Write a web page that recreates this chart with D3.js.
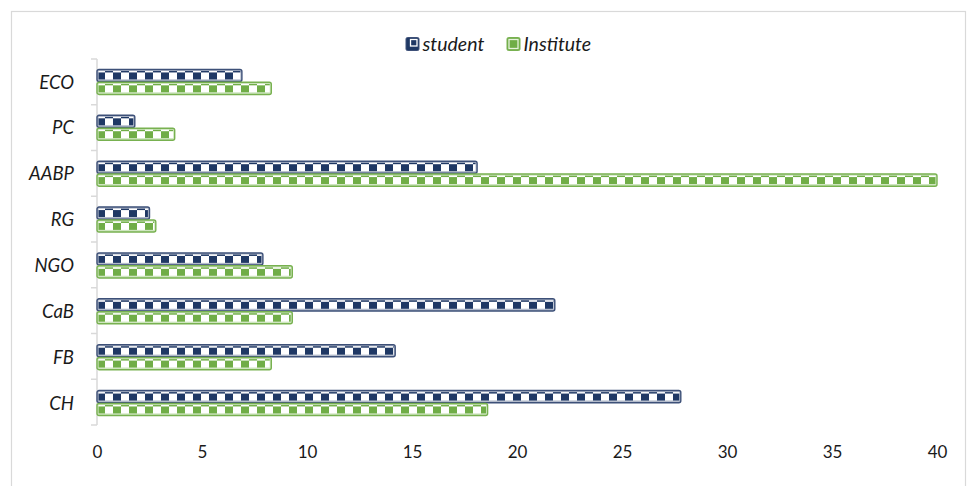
<!DOCTYPE html>
<html>
<head>
<meta charset="utf-8">
<script src="https://cdn.jsdelivr.net/npm/d3@7"></script>
<style>
  html, body { margin: 0; padding: 0; background: #fff; }
  svg { display: block; }
  text { font-family: Lato, "Open Sans", sans-serif; fill: #1a1a1a; }
</style>
</head>
<body>
<svg id="chart" width="968" height="486"></svg>
<script>
// Share of responses per channel (%), student vs. institute
const categories = ["ECO", "PC", "AABP", "RG", "NGO", "CaB", "FB", "CH"];
const seriesNames = ["student", "Institute"];
const student = [6.9, 1.8, 18.1, 2.5, 7.9, 21.8, 14.2, 27.8];
const institute = [8.3, 3.7, 40, 2.8, 9.3, 9.3, 8.3, 18.6];
const xTicks = [0, 5, 10, 15, 20, 25, 30, 35, 40];

const seriesStyle = {
  student:   { main: "#1f3864", edge: "#3d5078", light: "#b3bbcb" },
  Institute: { main: "#70ad47", edge: "#78b150", light: "#cfe6c0" }
};

const svg = d3.select("#chart");
const defs = svg.append("defs");

// checkerboard fill for each series (aligned to each bar's own origin)
seriesNames.forEach(name => {
  const s = seriesStyle[name];
  const p = defs.append("pattern")
    .attr("id", "chk-" + name)
    .attr("patternUnits", "userSpaceOnUse")
    .attr("width", 16).attr("height", 40);
  p.append("rect").attr("width", 16).attr("height", 40).attr("fill", "#fff");
  p.append("rect").attr("x", 8).attr("y", 0).attr("width", 8).attr("height", 3).attr("fill", s.main);
  p.append("rect").attr("x", 0).attr("y", 3).attr("width", 8).attr("height", 40).attr("fill", s.main);
  p.append("rect").attr("x", 0).attr("y", 0).attr("width", 16).attr("height", 0.8).attr("fill", s.main).attr("opacity", 0.6);
});

// chart frame
svg.append("rect")
  .attr("x", 11.5).attr("y", 11.5).attr("width", 954).attr("height", 490)
  .attr("fill", "none").attr("stroke", "#d9d9d9").attr("stroke-width", 1.2);

const x = d3.scaleLinear().domain([0, 40]).range([97, 937]);
const y = d3.scaleBand().domain(categories).range([59, 426])
  .paddingInner(0.455).paddingOuter(0.2275);
const ys = d3.scaleBand().domain(seriesNames).range([0, y.bandwidth()]).paddingInner(0.06);

// category axis line and tick marks
const yTop = y.range()[0], yBot = y.range()[1] - 1;
svg.append("line")
  .attr("x1", 97).attr("x2", 97).attr("y1", yTop).attr("y2", yBot)
  .attr("stroke", "#d9d9d9").attr("stroke-width", 1.5);
const bounds = d3.range(categories.length + 1).map(i => yTop + i * (yBot - yTop) / categories.length);
svg.append("g").selectAll("line").data(bounds).join("line")
  .attr("x1", 91).attr("x2", 97).attr("y1", d => d).attr("y2", d => d)
  .attr("stroke", "#d9d9d9").attr("stroke-width", 1.5);

// category labels
svg.append("g").selectAll("text").data(categories).join("text")
  .attr("x", 74)
  .attr("y", d => y(d) + y.bandwidth() / 2)
  .attr("dy", "0.36em")
  .attr("text-anchor", "end")
  .attr("font-style", "italic")
  .attr("font-size", 18.5)
  .text(d => d);

// value axis labels
const xAxis = d3.axisBottom(x).tickValues(xTicks).tickSize(0).tickPadding(0);
const gx = svg.append("g").attr("transform", "translate(0,446)").call(xAxis);
gx.select(".domain").remove();
gx.selectAll("text").attr("font-size", 17).attr("font-family", "Lato, sans-serif").attr("fill", "#1a1a1a");

// bars
const rows = categories.map((c, i) => ({ cat: c, student: student[i], Institute: institute[i] }));
const barH = ys.bandwidth();

function drawBar(g, name, value) {
  const s = seriesStyle[name];
  const w = x(value) - x(0);
  g.append("rect")
    .attr("x", 0).attr("y", 0).attr("width", w).attr("height", barH)
    .attr("rx", 2).attr("fill", s.light)
    .attr("stroke", s.edge).attr("stroke-width", 1.4);
  g.append("rect")
    .attr("x", 1.6).attr("y", 1.6)
    .attr("width", Math.max(0, w - 3.2)).attr("height", barH - 3.8)
    .attr("fill", `url(#chk-${name})`);
}

rows.forEach(r => {
  seriesNames.forEach(name => {
    const g = svg.append("g")
      .attr("transform", `translate(${x(0)},${y(r.cat) + ys(name)})`);
    drawBar(g, name, r[name]);
  });
});

// legend
const legendItems = [
  { name: "student", x: 406 },
  { name: "Institute", x: 507 }
];
const lg = svg.append("g");
legendItems.forEach(it => {
  const s = seriesStyle[it.name];
  const g = lg.append("g").attr("transform", `translate(${it.x},37.5)`);
  g.append("rect").attr("width", 13).attr("height", 13).attr("rx", 1.5)
    .attr("fill", s.main).attr("stroke", s.edge).attr("stroke-width", 1);
  if (it.name === "student") {
    g.append("rect").attr("x", 4.5).attr("y", 2).attr("width", 6.5).attr("height", 6.5)
      .attr("fill", "none").attr("stroke", "#fff").attr("stroke-width", 1.3);
  } else {
    g.append("rect").attr("x", 2).attr("y", 2).attr("width", 9).attr("height", 9)
      .attr("fill", "none").attr("stroke", "#e6f2dc").attr("stroke-width", 1.3);
  }
  lg.append("text")
    .attr("x", it.x + 16.5).attr("y", 44).attr("dy", "0.36em")
    .attr("font-style", "italic").attr("font-size", 19.5)
    .text(it.name);
});
</script>
</body>
</html>
